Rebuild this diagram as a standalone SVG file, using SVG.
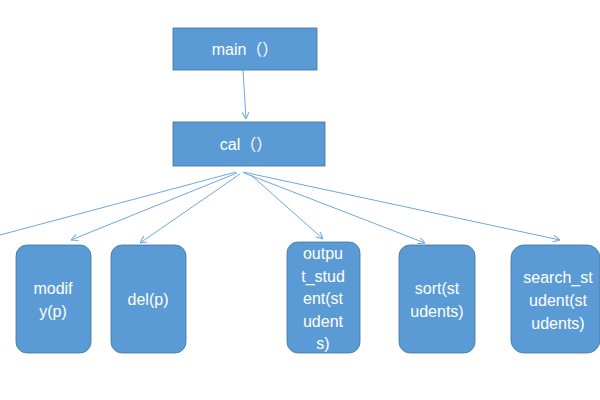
<svg xmlns="http://www.w3.org/2000/svg" width="600" height="400" viewBox="0 0 600 400">
<style>
.box{fill:#5B9BD5;stroke:#41719C;stroke-width:0.8}
.t{fill:#ffffff;font-family:"Liberation Sans","Noto Sans CJK SC",sans-serif;font-size:16px;text-anchor:middle}
.c{stroke:#6FA8DC;stroke-width:1;fill:none}
</style>
<defs>
<marker id="ah" viewBox="0 0 10 10" refX="10" refY="5" markerWidth="7" markerHeight="7" markerUnits="userSpaceOnUse" orient="auto">
<path d="M0,0 L10,5 L0,10" fill="none" stroke="#6FA8DC" stroke-width="1.4"/>
</marker>
</defs>
<rect width="600" height="400" fill="#ffffff"/>
<g id="connectors">
<line class="c" x1="243" y1="70" x2="246" y2="119" marker-end="url(#ah)"/>
<line class="c" x1="236" y1="172" x2="0" y2="235"/>
<line class="c" x1="237" y1="173" x2="71" y2="240" marker-end="url(#ah)"/>
<line class="c" x1="240" y1="174" x2="140" y2="243" marker-end="url(#ah)"/>
<line class="c" x1="251" y1="175" x2="323" y2="239" marker-end="url(#ah)"/>
<line class="c" x1="244" y1="173" x2="425" y2="243" marker-end="url(#ah)"/>
<line class="c" x1="243" y1="172" x2="560" y2="240" marker-end="url(#ah)"/>
</g>
<g id="main">
<rect class="box" x="173" y="28" width="144" height="42"/>
<text class="t" x="245" y="55">main（）</text>
</g>
<g id="cal">
<rect class="box" x="173" y="122" width="152" height="44"/>
<text class="t" x="246" y="150">cal（）</text>
</g>
<g id="modify">
<rect class="box" x="16" y="245" width="75" height="108" rx="11"/>
<text class="t" x="53" y="294">modif</text>
<text class="t" x="53" y="317">y(p)</text>
</g>
<g id="del">
<rect class="box" x="111" y="245" width="75" height="108" rx="11"/>
<text class="t" x="148" y="305">del(p)</text>
</g>
<g id="output">
<rect class="box" x="287" y="242" width="73" height="111" rx="11"/>
<text class="t" x="323" y="259">outpu</text>
<text class="t" x="323" y="282">t_stud</text>
<text class="t" x="323" y="304">ent(st</text>
<text class="t" x="323" y="327">udent</text>
<text class="t" x="323" y="349">s)</text>
</g>
<g id="sort">
<rect class="box" x="399" y="245" width="76" height="108" rx="11"/>
<text class="t" x="437" y="294">sort(st</text>
<text class="t" x="437" y="317">udents)</text>
</g>
<g id="search">
<rect class="box" x="511" y="245" width="89" height="108" rx="13"/>
<text class="t" x="558" y="283">search_st</text>
<text class="t" x="558" y="306">udent(st</text>
<text class="t" x="558" y="329">udents)</text>
</g>
</svg>
